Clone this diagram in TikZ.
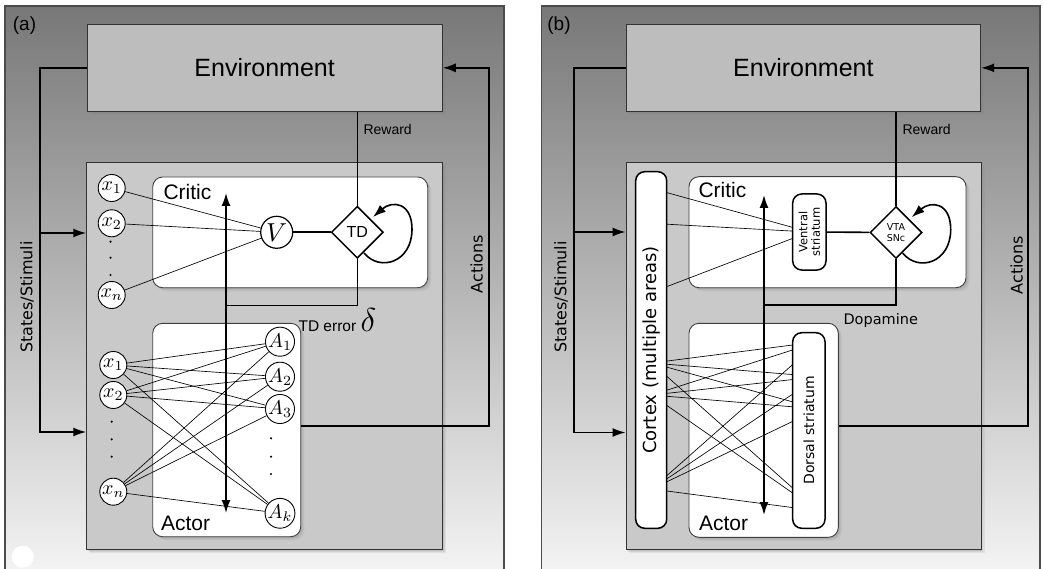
\documentclass[tikz,border=0pt]{standalone}
\usepackage[no-math]{fontspec}
\setmainfont{Liberation Sans}
\newfontfamily\dv{DejaVu Sans}
\usetikzlibrary{arrows.meta,shapes.geometric,calc,shadows}
\newcommand\fsz[1]{\fontsize{#1}{#1}\selectfont}
\definecolor{envgray}{HTML}{BDBDBD}
\definecolor{innergray}{HTML}{C9C9C9}
\definecolor{bgtop}{HTML}{787878}
\definecolor{bgbot}{HTML}{F4F4F4}
\tikzset{
 pframe/.style={draw=black!70, line width=1.3pt},
 shad/.style={drop shadow={shadow xshift=1.2pt, shadow yshift=-1.2pt, opacity=0.18},
              drop shadow={shadow xshift=2.4pt, shadow yshift=-2.4pt, opacity=0.16},
              drop shadow={shadow xshift=3.6pt, shadow yshift=-3.6pt, opacity=0.12}},
 envbox/.style={rectangle, draw=black!80, line width=0.9pt, fill=envgray, shad, inner sep=0pt},
 innerbox/.style={rectangle, draw=black!80, line width=0.9pt, fill=innergray, shad, inner sep=0pt},
 wbox/.style={rectangle, rounded corners=10pt, draw=black!75, line width=0.9pt, fill=white, shad, inner sep=0pt},
 unit/.style={circle, draw=black, fill=white, line width=0.9pt, minimum size=27pt, inner sep=0pt},
 hunit/.style={circle, minimum size=27pt, inner sep=0pt},
 conn/.style={line width=0.65pt},
 flow/.style={line width=1.6pt},
 arr/.style={-{Latex[length=13pt,width=9pt]}},
 darr/.style={{Latex[length=13pt,width=9pt]}-{Latex[length=13pt,width=9pt]}},
 tdnode/.style={diamond, draw, fill=white, line width=1.5pt, minimum size=52pt, inner sep=0pt},
 pill/.style={rectangle, rounded corners=9pt, draw, fill=white, line width=1.5pt, inner sep=0pt},
 lab/.style={font=\fsz{14}},
 side/.style={rotate=90, font=\dv\fsz{16}},
 ttl/.style={font=\fsz{21}, anchor=west},
}
\newcommand\mx[1]{\scalebox{2}{$#1$}}
\begin{document}
\begin{tikzpicture}[x=1pt,y=-1pt]
\useasboundingbox (0,0) rectangle (1043,569);
% ---------------- panels
\shade[top color=bgtop, bottom color=bgbot] (5,6) rectangle (504,575);
\draw[pframe] (5,6) rectangle (504,575);
\shade[top color=bgtop, bottom color=bgbot] (541.5,6) rectangle (1040,575);
\draw[pframe] (541.5,6) rectangle (1040,575);
\fill[white] (22.7,556.7) circle[radius=11pt];
\node[font=\fsz{19}] (la) at (24.5,26) {(a)};
\node[font=\fsz{19}] (lb) at (559,26) {(b)};

% ================= PANEL A
\node[envbox, minimum width=355.3pt, minimum height=87.7pt, font=\fsz{25}] (envA) at (264.65,67.85) {Environment};
\node[innerbox, minimum width=356pt, minimum height=387.3pt] (innerA) at (264.7,355.65) {};
\node[wbox, minimum width=275pt, minimum height=110.7pt] (criticA) at (290.2,232.35) {};
\node[wbox, minimum width=148pt, minimum height=213.4pt] (actorA) at (226.7,430) {};
\node[ttl] (critAt) at (160,192) {Critic};
\node[ttl] (actAt) at (157.5,523.5) {Actor};

\node[unit] (cx1) at (111.7,188) {\mx{x_1}};
\node[unit] (cx2) at (111.7,223.3) {\mx{x_2}};
\node[unit] (cxn) at (111.7,295) {\mx{x_n}};
\foreach \y in {241.7,257.7,275} \fill (110.5,\y) circle[radius=1.2pt];
\node[circle, draw, fill=white, line width=1.2pt, minimum size=32pt, inner sep=0pt] (V) at (276.7,232.3) {\scalebox{2.6}{$V$}};
\node[tdnode, font=\fsz{16}] (TD) at (357.3,232.3) {TD};

\node[unit] (ax1) at (113.3,365) {\mx{x_1}};
\node[unit] (ax2) at (113.3,395) {\mx{x_2}};
\node[unit] (axn) at (113.3,491.7) {\mx{x_n}};
\foreach \y in {421.7,439.3,456.7} \fill (111.7,\y) circle[radius=1.2pt];
\node[unit] (A1) at (280,341.7) {\mx{A_1}};
\node[unit] (A2) at (280,376.7) {\mx{A_2}};
\node[unit] (A3) at (280,409) {\mx{A_3}};
\node[unit] (Ak) at (280,513.3) {\mx{A_k}};
\foreach \y in {438.3,456.7,474} \fill (271,\y) circle[radius=1.2pt];

\foreach \s in {cx1,cx2,cxn} \draw[conn] (\s) -- (V);
\foreach \s in {ax1,ax2,axn} \foreach \t in {A1,A2,A3,Ak} \draw[conn] (\s) -- (\t);

\draw[flow] (V) -- (TD);
\draw[flow] (envA.south -| TD.north) -- (TD.north);
\node[lab, anchor=west] (rwA) at (360,129) {Reward};
\coordinate (jA) at (226,305.5);
\draw[flow] (TD.south) |- (jA);
\node[anchor=west] (tdeA) at (295,320) {\fsz{15.5}TD error~\scalebox{2.3}{$\delta$}};
\draw[flow,arr] ($(TD)+(6.7,20.7)$) .. controls ($(TD)+(22.7,40)$) and ($(TD)+(54.7,30)$) .. ($(TD)+(54.7,-3)$) .. controls ($(TD)+(54.7,-30)$) and ($(TD)+(35,-32)$) .. ($(TD)+(15.7,-15.3)$);
\coordinate (vtA) at (226,193);
\coordinate (vbA) at (226,513);
\draw[flow,darr] (vbA) -- (vtA);
% states / actions
\coordinate (sAc) at (40,432);
\coordinate (sAb) at (40,233);
\draw[flow,arr] (envA.west) -| (sAc) -- (innerA.west |- sAc);
\draw[flow,arr] (sAb) -- (innerA.west |- sAb);
\coordinate (aAc) at (489,426);
\draw[flow,arr] (actorA.east |- aAc) -- (aAc) |- (envA.east);
\node[side] (stA) at (27,297) {States/Stimuli};
\node[side] (acA) at (476.7,264) {Actions};

% ================= PANEL B
\node[envbox, minimum width=354.7pt, minimum height=87.7pt, font=\fsz{25}] (envB) at (803.35,67.85) {Environment};
\node[innerbox, minimum width=355pt, minimum height=387.3pt] (innerB) at (803.5,355.65) {};
\node[wbox, minimum width=277pt, minimum height=111pt] (criticB) at (827.5,232.2) {};
\node[wbox, minimum width=149.3pt, minimum height=214pt] (actorB) at (763.65,430.3) {};
\node[ttl] (critBt) at (695,190) {Critic};
\node[ttl] (actBt) at (695.5,523.5) {Actor};

\node[hunit] (hcx1) at (650.2,188) {};
\node[hunit] (hcx2) at (650.2,223.3) {};
\node[hunit] (hcxn) at (650.2,293) {};
\node[hunit] (hax1) at (651.8,363) {};
\node[hunit] (hax2) at (651.8,395) {};
\node[hunit] (haxn) at (651.8,489) {};
\node[hunit] (hA1) at (818.5,341.7) {};
\node[hunit] (hA2) at (818.5,376.7) {};
\node[hunit] (hA3) at (818.5,409) {};
\node[hunit] (hAk) at (818.5,511) {};

\node[pill, rotate=90, minimum width=76pt, minimum height=33.3pt, align=center, font=\dv\fsz{11.5}] (vs) at (809.35,232) {Ventral\\[1pt]striatum};
\node[tdnode, align=center, font=\dv\fsz{9.5}] (vta) at (896,232.5) {VTA\\[2pt]SNc};

\foreach \s in {hcx1,hcx2,hcxn} \draw[conn] (\s) -- (vs);
\foreach \s in {hax1,hax2,haxn} \foreach \t in {hA1,hA2,hA3,hAk} \draw[conn] (\s) -- (\t);

\node[pill, rotate=90, minimum width=356.6pt, minimum height=31pt, font=\dv\fsz{18}] (ctx) at (651.2,350) {Cortex (multiple areas)};
\node[pill, rotate=90, minimum width=195.6pt, minimum height=32.3pt, font=\dv\fsz{14}] (ds) at (808.85,430.5) {Dorsal striatum};

\draw[flow] (vs) -- (vta);
\draw[flow] (envB.south -| vta.north) -- (vta.north);
\node[lab, anchor=west] (rwB) at (899,129) {Reward};
\coordinate (jB) at (764,305);
\draw[flow] (vta.south) |- (jB);
\node[font=\dv\fsz{14.5}] (dop) at (880.7,320) {Dopamine};
\draw[flow,arr] ($(vta)+(6.7,20.7)$) .. controls ($(vta)+(22.7,40)$) and ($(vta)+(54.7,30)$) .. ($(vta)+(54.7,-3)$) .. controls ($(vta)+(54.7,-30)$) and ($(vta)+(35,-32)$) .. ($(vta)+(15.7,-15.3)$);
\coordinate (vtB) at (764,195);
\coordinate (vbB) at (764,515);
\draw[flow,darr] (vbB) -- (vtB);
\coordinate (sBc) at (574,432.5);
\coordinate (sBb) at (574,232);
\draw[flow,arr] (envB.west) -| (sBc) -- (innerB.west |- sBc);
\draw[flow,arr] (sBb) -- (innerB.west |- sBb);
\coordinate (aBc) at (1027.7,426);
\draw[flow,arr] (actorB.east |- aBc) -- (aBc) |- (envB.east);
\node[side] (stB) at (561,297) {States/Stimuli};
\node[side] (acB) at (1016.7,265) {Actions};
\end{tikzpicture}
\end{document}
